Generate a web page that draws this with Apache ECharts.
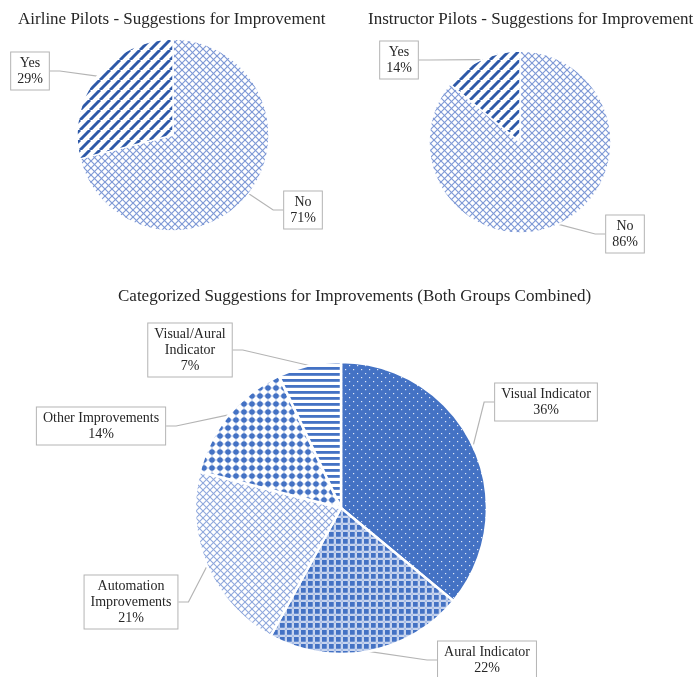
<!DOCTYPE html>
<html>
<head>
<meta charset="utf-8">
<script src="https://cdn.jsdelivr.net/npm/echarts@6/dist/echarts.min.js"></script>
<style>
html,body{margin:0;padding:0;background:#fff;}
#chart{width:696px;height:677px;}
</style>
</head>
<body>
<div id="chart"></div>
<script>
// ---- Data ----
const titles = [
  'Airline Pilots - Suggestions for Improvement',
  'Instructor Pilots - Suggestions for Improvement',
  'Categorized Suggestions for Improvements (Both Groups Combined)'
];
const yesNoCategories = ['No', 'Yes'];
const airlineValues = [71, 29];
const instructorValues = [86, 14];
const combinedCategories = ['Visual Indicator', 'Aural Indicator', 'Automation Improvements', 'Other Improvements', 'Visual/Aural Indicator'];
const combinedValues = [36, 22, 21, 14, 7];

// ---- Patterns ----
function makePattern(w, h, draw) {
  const c = document.createElement('canvas');
  c.width = w; c.height = h;
  const ctx = c.getContext('2d');
  draw(ctx, w, h);
  return { image: c, repeat: 'repeat' };
}
const BLUE = '#4472C4';
const stripesDiag = makePattern(10, 10, (ctx, w, h) => {
  ctx.fillStyle = '#fff'; ctx.fillRect(0, 0, w, h);
  ctx.strokeStyle = '#2E59A8'; ctx.lineWidth = 3;
  for (let k = -1; k <= 1; k++) {
    ctx.beginPath(); ctx.moveTo(k * w, h); ctx.lineTo(k * w + w, 0); ctx.stroke();
  }
});
function hatch(size, color, lw) {
  return makePattern(size, size, (ctx, w, h) => {
    ctx.fillStyle = '#fff'; ctx.fillRect(0, 0, w, h);
    ctx.strokeStyle = color; ctx.lineWidth = lw;
    for (let k = -1; k <= 1; k++) {
      ctx.beginPath(); ctx.moveTo(k * w, h); ctx.lineTo(k * w + w, 0); ctx.stroke();
      ctx.beginPath(); ctx.moveTo(k * w, 0); ctx.lineTo(k * w + w, h); ctx.stroke();
    }
  });
}
const crossHatch = hatch(7, '#7f9ad6', 1.2);
const crossHatchLight = hatch(7, '#8ea7dc', 1.1);
const dottedSolid = makePattern(8, 8, (ctx, w, h) => {
  ctx.fillStyle = BLUE; ctx.fillRect(0, 0, w, h);
  ctx.fillStyle = '#dfe7f6';
  ctx.fillRect(1, 1, 1.2, 1.2);
  ctx.fillRect(5, 5, 1.2, 1.2);
});
const plaid = makePattern(7, 7, (ctx, w, h) => {
  ctx.fillStyle = '#fff'; ctx.fillRect(0, 0, w, h);
  ctx.fillStyle = '#8fa9de';
  ctx.fillRect(5.5, 0, 1, h); ctx.fillRect(0, 5.5, w, 1);
  ctx.fillStyle = BLUE; ctx.fillRect(0, 0, 4.8, 4.8);
});
const dotsGrid = makePattern(8, 8, (ctx, w, h) => {
  ctx.fillStyle = '#fff'; ctx.fillRect(0, 0, w, h);
  ctx.strokeStyle = '#9ab1df'; ctx.lineWidth = 0.9;
  ctx.beginPath(); ctx.moveTo(4, 0); ctx.lineTo(4, h); ctx.moveTo(0, 4); ctx.lineTo(w, 4); ctx.stroke();
  ctx.fillStyle = BLUE;
  ctx.beginPath(); ctx.arc(4, 4, 2.8, 0, Math.PI * 2); ctx.fill();
});
const hStripes = makePattern(6, 6, (ctx, w, h) => {
  ctx.fillStyle = '#fff'; ctx.fillRect(0, 0, w, h);
  ctx.fillStyle = BLUE; ctx.fillRect(0, 1, w, 2.8);
});

const yesNoFills = [crossHatch, stripesDiag];
const combinedFills = [dottedSolid, plaid, crossHatchLight, dotsGrid, hStripes];

// ---- Label box centers (layout) ----
const labelCenters = {
  0: { 'No': [303, 210], 'Yes': [30, 71] },
  1: { 'No': [625, 234], 'Yes': [399, 60] },
  2: {
    'Visual Indicator': [546, 402],
    'Aural Indicator': [487, 660],
    'Automation Improvements': [131, 602],
    'Other Improvements': [101, 426],
    'Visual/Aural Indicator': [190, 350]
  }
};
const labelTexts = {
  'Automation Improvements': 'Automation\nImprovements',
  'Visual/Aural Indicator': 'Visual/Aural\nIndicator'
};

const FONT = '"Liberation Serif", "Times New Roman", serif';
const labelStyle = {
  show: true,
  position: 'outside',
  formatter: p => (labelTexts[p.name] || p.name) + '\n' + p.value + '%',
  fontFamily: FONT,
  fontSize: 14,
  lineHeight: 16,
  color: '#262626',
  align: 'center',
  backgroundColor: '#fff',
  borderColor: '#b4b4b4',
  borderWidth: 1,
  padding: [3, 6, 2, 6]
};

function buildData(cats, vals, fills, border) {
  return cats.map((c, i) => ({
    name: c, value: vals[i],
    itemStyle: { color: fills[i], borderColor: '#fff', borderWidth: border }
  }));
}

function pieSeries(idx, center, radius, data) {
  return {
    type: 'pie',
    center: center,
    radius: radius,
    startAngle: 90,
    clockwise: true,
    animation: false,
    silent: true,
    data: data,
    label: labelStyle,
    labelLine: { show: true, length: 10, length2: 10, lineStyle: { color: '#b4b4b4', width: 1.2 } },
    labelLayout: function (params) {
      const name = params.dataIndex != null ? data[params.dataIndex].name : null;
      const c = labelCenters[idx][name];
      if (!c) return {};
      return { x: c[0], y: c[1], align: 'center', verticalAlign: 'middle' };
    }
  };
}

const chart = echarts.init(document.getElementById('chart'), null, { renderer: 'canvas' });
chart.setOption({
  backgroundColor: '#fff',
  title: [
    { text: titles[0], left: 18, top: 11, padding: 0, textStyle: { fontFamily: FONT, fontSize: 17, fontWeight: 'normal', color: '#262626' } },
    { text: titles[1], left: 368, top: 11, padding: 0, textStyle: { fontFamily: FONT, fontSize: 17, fontWeight: 'normal', color: '#262626' } },
    { text: titles[2], left: 118, top: 288, padding: 0, textStyle: { fontFamily: FONT, fontSize: 17, fontWeight: 'normal', color: '#262626' } }
  ],
  series: [
    pieSeries(0, [173, 135], 96, buildData(yesNoCategories, airlineValues, yesNoFills, 1.5)),
    pieSeries(1, [520, 142], 91, buildData(yesNoCategories, instructorValues, yesNoFills, 1.5)),
    pieSeries(2, [341, 508], 146, buildData(combinedCategories, combinedValues, combinedFills, 2.5))
  ]
});
</script>
</body>
</html>
